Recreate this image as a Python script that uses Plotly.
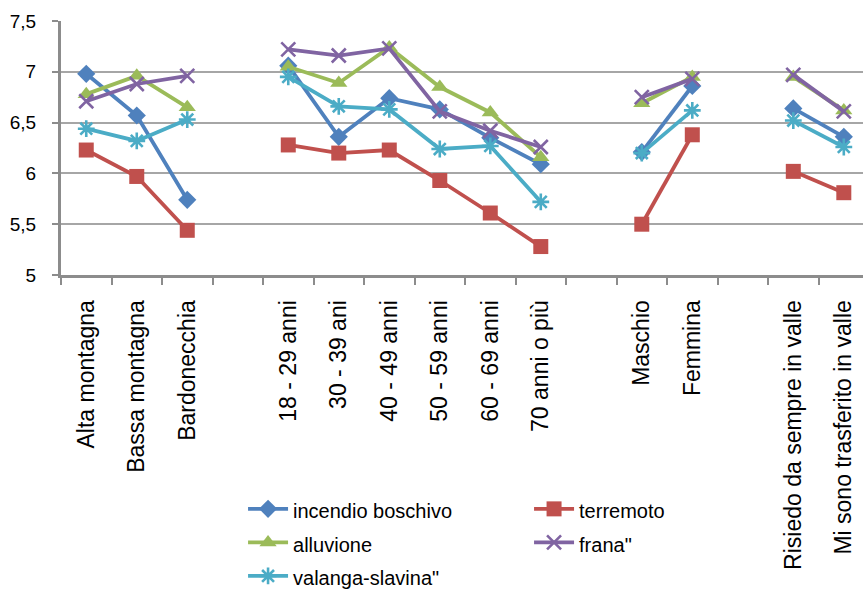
import plotly.graph_objects as go

categories = ["Alta montagna", "Bassa montagna", "Bardonecchia", " ",
              "18 - 29 anni", "30 - 39 ani", "40 - 49 anni", "50 - 59 anni",
              "60 - 69 anni", "70 anni o più", "  ",
              "Maschio", "Femmina", "   ",
              "Risiedo da sempre in valle", "Mi sono trasferito in valle"]

incendio = [6.98, 6.57, 5.74, None, 7.06, 6.36, 6.74, 6.63, 6.35, 6.09, None, 6.21, 6.86, None, 6.64, 6.36]
terremoto = [6.23, 5.97, 5.44, None, 6.28, 6.20, 6.23, 5.93, 5.61, 5.28, None, 5.50, 6.38, None, 6.02, 5.81]
alluvione = [6.78, 6.96, 6.65, None, 7.05, 6.89, 7.24, 6.85, 6.60, 6.16, None, 6.69, 6.95, None, 6.95, 6.62]
frana = [6.71, 6.88, 6.96, None, 7.22, 7.16, 7.23, 6.61, 6.42, 6.26, None, 6.75, 6.93, None, 6.97, 6.61]
valanga = [6.44, 6.32, 6.53, None, 6.95, 6.66, 6.63, 6.24, 6.27, 5.72, None, 6.20, 6.62, None, 6.52, 6.26]

series = [
    ("incendio boschivo", incendio, "#4F81BD", "diamond", 14),
    ("terremoto", terremoto, "#C0504D", "square", 15),
    ("alluvione", alluvione, "#9BBB59", "triangle-up", 15),
    ("frana\"", frana, "#8064A2", "x-thin-open", 14),
    ("valanga-slavina\"", valanga, "#4BACC6", "asterisk-open", 14),
]

fig = go.Figure()
for name, vals, col, sym, sz in series:
    fig.add_trace(go.Scatter(
        x=categories, y=vals,
        name='<span style="font-size:20px">' + name + '</span>',
        mode="lines+markers",
        connectgaps=False,
        line=dict(color=col, width=3.8),
        marker=dict(symbol=sym, size=sz, color=col,
                    line=dict(color=col, width=2.6 if "open" in sym else 0)),
    ))

fig.update_layout(
    width=863, height=590,
    margin=dict(l=61, r=0, t=21, b=315, autoexpand=False),
    plot_bgcolor="white", paper_bgcolor="white",
    separators=", ",
    font=dict(family="Liberation Sans, Arial, sans-serif", size=20, color="#000000"),
    showlegend=True,
    legend=dict(orientation="h", x=0.227, xanchor="left", y=-0.835, yanchor="top",
                entrywidth=231, font=dict(size=23.5), tracegroupgap=0,
                itemwidth=40, bgcolor="rgba(0,0,0,0)"),
)
fig.update_xaxes(
    type="category", categoryorder="array", categoryarray=categories,
    range=[-0.5, 15.38], automargin=False,
    showline=True, linecolor="#8C8C8C", linewidth=3,
    ticks="outside", ticklen=7, tickwidth=2, tickcolor="#8C8C8C",
    tickson="boundaries", showgrid=False,
    tickangle=-90, ticklabelstandoff=13,
    tickfont=dict(size=23),
)
fig.update_yaxes(
    range=[5, 7.5], dtick=0.5, tick0=5, automargin=False,
    showline=True, linecolor="#8C8C8C", linewidth=3,
    ticks="outside", ticklen=6, tickwidth=2, tickcolor="#8C8C8C",
    showgrid=True, gridcolor="#A6A6A6", gridwidth=2,
    zeroline=False, ticklabelstandoff=12,
    tickfont=dict(size=19),
)

fig.write_html("out.html")
